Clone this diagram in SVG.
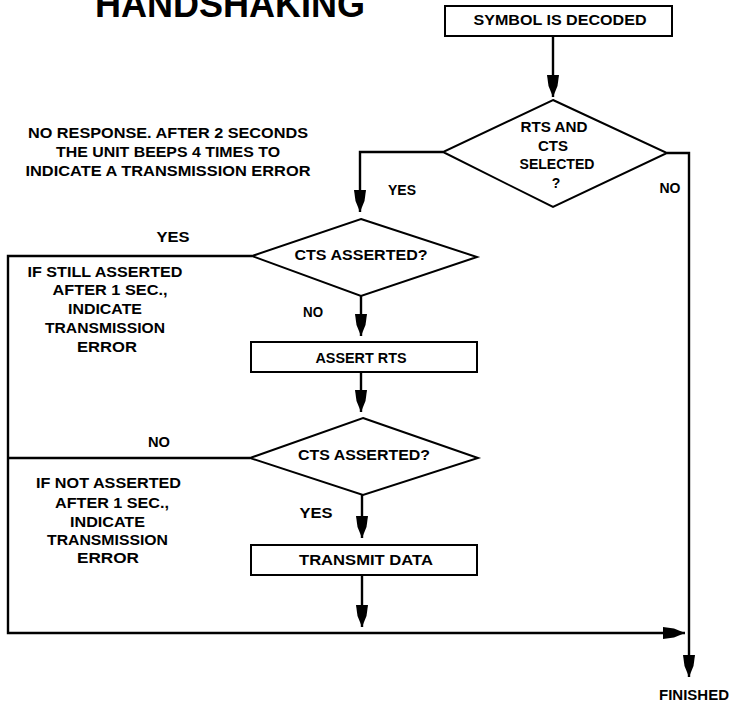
<svg xmlns="http://www.w3.org/2000/svg" width="733" height="705" viewBox="0 0 733 705">
<style>
  text { font-family: "Liberation Sans", Arial, sans-serif; font-weight: bold; fill: #000; }
  .t { font-size: 15px; text-anchor: middle; }
  .s { font-size: 14px; text-anchor: middle; }
  .title { font-size: 36px; }
  .node { fill: #fff; stroke: #000; stroke-width: 2; }
  .conn { fill: none; stroke: #000; stroke-width: 2.4; }
</style>
<defs>
  <marker id="arr" viewBox="0 0 22 14" refX="22" refY="7" markerWidth="22" markerHeight="14" markerUnits="userSpaceOnUse" orient="auto">
    <path d="M0,1 L11,2.5 L22,7 L11,11.5 L0,13 Z" fill="#000"/>
  </marker>
</defs>
<rect width="733" height="705" fill="#fff"/>
<text class="title" x="95" y="17" textLength="270" lengthAdjust="spacingAndGlyphs">HANDSHAKING</text>

<g id="note-top">
  <text class="t" x="168" y="137.5" textLength="280" lengthAdjust="spacingAndGlyphs">NO RESPONSE. AFTER 2 SECONDS</text>
  <text class="t" x="168" y="156.5" textLength="224" lengthAdjust="spacingAndGlyphs">THE UNIT BEEPS 4 TIMES TO</text>
  <text class="t" x="168" y="175.5" textLength="285" lengthAdjust="spacingAndGlyphs">INDICATE A TRANSMISSION ERROR</text>
</g>

<g id="connectors">
  <path class="conn" d="M553,36 V97" marker-end="url(#arr)"/>
  <path class="conn" d="M443,152 H360 V212" marker-end="url(#arr)"/>
  <path class="conn" d="M667,153 H689 V677" marker-end="url(#arr)"/>
  <path class="conn" d="M252,256 H8 V633 H685" marker-end="url(#arr)"/>
  <path class="conn" d="M361,296 V336" marker-end="url(#arr)"/>
  <path class="conn" d="M361,372 V412" marker-end="url(#arr)"/>
  <path class="conn" d="M250,458 H8"/>
  <path class="conn" d="M362,495 V538" marker-end="url(#arr)"/>
  <path class="conn" d="M362,576 V627" marker-end="url(#arr)"/>
</g>

<g id="start">
  <rect class="node" x="445" y="6" width="227" height="30"/>
  <text class="s" x="560" y="25" textLength="173" lengthAdjust="spacingAndGlyphs">SYMBOL IS DECODED</text>
</g>

<g id="decision1">
  <polygon class="node" points="553,100 667,153 553,207 443,152"/>
  <text class="s" x="554" y="132" textLength="67" lengthAdjust="spacingAndGlyphs">RTS AND</text>
  <text class="s" x="553" y="151" textLength="30" lengthAdjust="spacingAndGlyphs">CTS</text>
  <text class="s" x="557" y="169" textLength="75" lengthAdjust="spacingAndGlyphs">SELECTED</text>
  <text class="s" x="556" y="188">?</text>
</g>

<g id="decision2">
  <polygon class="node" points="361,219 477,257 361,296 252,256"/>
  <text class="s" x="361" y="260" textLength="133" lengthAdjust="spacingAndGlyphs">CTS ASSERTED?</text>
</g>

<g id="assert">
  <rect class="node" x="251" y="342" width="226" height="30"/>
  <text class="s" x="361" y="363" textLength="91" lengthAdjust="spacingAndGlyphs">ASSERT RTS</text>
</g>

<g id="decision3">
  <polygon class="node" points="363,418 478,458 363,495 250,458"/>
  <text class="s" x="364" y="460" textLength="132" lengthAdjust="spacingAndGlyphs">CTS ASSERTED?</text>
</g>

<g id="transmit">
  <rect class="node" x="251" y="545" width="226" height="30"/>
  <text class="s" x="366" y="565" textLength="134" lengthAdjust="spacingAndGlyphs">TRANSMIT DATA</text>
</g>

<g id="note-still">
  <text class="t" x="105" y="277.4" textLength="155" lengthAdjust="spacingAndGlyphs">IF STILL ASSERTED</text>
  <text class="t" x="110" y="295.4" textLength="115" lengthAdjust="spacingAndGlyphs">AFTER 1 SEC.,</text>
  <text class="t" x="105" y="314.4" textLength="74" lengthAdjust="spacingAndGlyphs">INDICATE</text>
  <text class="t" x="105" y="333.4" textLength="120" lengthAdjust="spacingAndGlyphs">TRANSMISSION</text>
  <text class="t" x="107" y="352.4" textLength="60" lengthAdjust="spacingAndGlyphs">ERROR</text>
</g>

<g id="note-not">
  <text class="t" x="108.5" y="488.4" textLength="145" lengthAdjust="spacingAndGlyphs">IF NOT ASSERTED</text>
  <text class="t" x="112" y="508.4" textLength="114" lengthAdjust="spacingAndGlyphs">AFTER 1 SEC.,</text>
  <text class="t" x="107.5" y="527.4" textLength="75" lengthAdjust="spacingAndGlyphs">INDICATE</text>
  <text class="t" x="107.5" y="545.4" textLength="121" lengthAdjust="spacingAndGlyphs">TRANSMISSION</text>
  <text class="t" x="108" y="563.4" textLength="62" lengthAdjust="spacingAndGlyphs">ERROR</text>
</g>

<g id="labels">
  <text class="s" x="402" y="195" textLength="28" lengthAdjust="spacingAndGlyphs">YES</text>
  <text class="s" x="670" y="193" textLength="21" lengthAdjust="spacingAndGlyphs">NO</text>
  <text class="s" x="173" y="242" textLength="33" lengthAdjust="spacingAndGlyphs">YES</text>
  <text class="s" x="313" y="317" textLength="20" lengthAdjust="spacingAndGlyphs">NO</text>
  <text class="s" x="159" y="447" textLength="22" lengthAdjust="spacingAndGlyphs">NO</text>
  <text class="s" x="316" y="518" textLength="33" lengthAdjust="spacingAndGlyphs">YES</text>
</g>

<g id="finished">
  <text class="s" x="694" y="700" textLength="70" lengthAdjust="spacingAndGlyphs">FINISHED</text>
</g>
</svg>
